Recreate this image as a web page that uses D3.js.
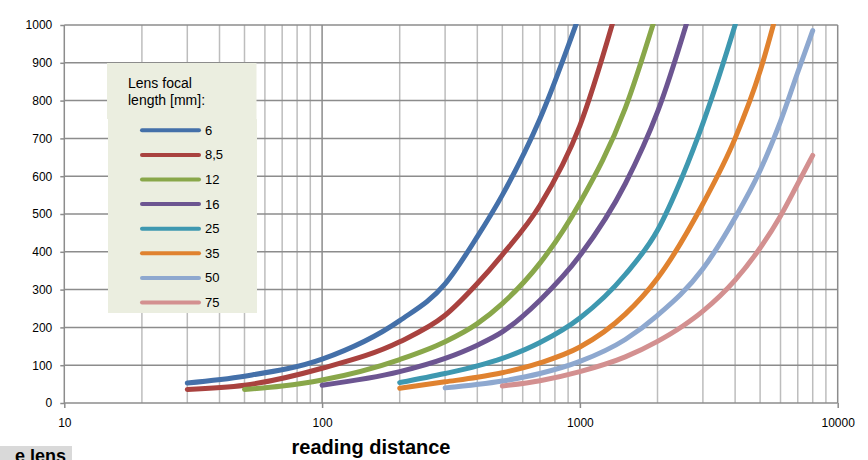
<!DOCTYPE html>
<html><head><meta charset="utf-8">
<script src="https://cdn.jsdelivr.net/npm/d3@7"></script>
<style>
body{margin:0;background:#fff}
svg{display:block}
text{font-family:"Liberation Sans",Arial,sans-serif;fill:#000}
</style>
</head><body>
<svg id="c" width="868" height="460"></svg>
<script>
// ---- data ----
const lensLabels = ["6","8,5","12","16","25","35","50","75"];
const seriesColors = ["#4470a9","#a9423f","#89a74a","#6c5591","#3e98b0","#e0822f","#8ea8cf","#d39090"];

const dist6  = [30,50,100,200,300,400,500,700,1000];
const val6   = [53,71,116,218,315,440,550,752,1030];
const dist85 = [30,50,100,200,300,400,500,700,1000,1400];
const val85  = [36,47,92,162,232,316,392,523,734,1050];
const dist12 = [50,70,100,200,300,400,500,700,1000,1500,2000];
const val12  = [36,45,61,115,162,210,263,370,530,780,1040];
const dist16 = [100,200,300,400,500,700,1000,1500,2000,3000];
const val16  = [47,83,118,153,188,272,390,580,770,1150];
const dist25 = [200,300,400,500,700,1000,1500,2000,2500,3000,4000,5000];
const val25  = [54,78,98,118,160,225,340,457,600,740,1000,1230];
const dist35 = [200,300,400,500,700,1000,1500,2000,3000,4000,5000,6000];
const val35  = [39,56,68,80,106,148,235,330,527,700,878,1070];
const dist50 = [300,500,700,1000,1500,2000,3000,4000,5000,6000,7000,8000];
const val50  = [40,58,78,110,168,232,355,490,615,745,875,985];
const dist75 = [500,700,1000,1500,2000,2500,3000,4000,5000,6000,7000,8000];
const val75  = [45,59,83,122,163,203,243,325,410,495,580,655];

const xTickValues = [10,100,1000,10000];
const xMinorValues = [20,30,40,50,60,70,80,90,200,300,400,500,600,700,800,900,2000,3000,4000,5000,6000,7000,8000,9000];
const yTickValues = [0,100,200,300,400,500,600,700,800,900,1000];
const xTitle = "reading distance";
const legendTitle = ["Lens focal","length [mm]:"];

const seriesDist = [dist6,dist85,dist12,dist16,dist25,dist35,dist50,dist75];
const seriesVal  = [val6,val85,val12,val16,val25,val35,val50,val75];

// ---- layout ----
const svg = d3.select("#c");
const L = 64.3, R = 837.7, T = 25, B = 403;
const x = d3.scaleLog().domain([10,10000]).range([L,R]);
const y = d3.scaleLinear().domain([0,1000]).range([B,T]);

const grid = svg.append("g");
grid.selectAll("line.vmin").data(xMinorValues).enter().append("line")
  .attr("x1",d=>x(d)).attr("x2",d=>x(d)).attr("y1",T).attr("y2",B)
  .attr("stroke","#bdbdbd").attr("stroke-width",1.5);
grid.selectAll("line.h").data(yTickValues).enter().append("line")
  .attr("x1",L).attr("x2",R).attr("y1",d=>y(d)).attr("y2",d=>y(d))
  .attr("stroke","#8c8c8c").attr("stroke-width",1.5);
grid.selectAll("line.vmaj").data(xTickValues).enter().append("line")
  .attr("x1",d=>x(d)).attr("x2",d=>x(d)).attr("y1",T).attr("y2",B)
  .attr("stroke","#8c8c8c").attr("stroke-width",1.5);

// axes
const yAxis = d3.axisLeft(y).tickValues(yTickValues).tickSize(4).tickPadding(8).tickFormat(d3.format("d"));
const gy = svg.append("g").attr("transform",`translate(${L},0)`).call(yAxis);
gy.select(".domain").remove();
gy.selectAll(".tick line").attr("stroke","#8c8c8c").attr("stroke-width",1.5);
gy.selectAll("text").style("font-size","12px").attr("fill","#000");

const xAxis = d3.axisBottom(x).tickValues(xTickValues).tickSize(5).tickPadding(10).tickFormat(d3.format("d"));
const gx = svg.append("g").attr("transform",`translate(0,${B})`).call(xAxis);
gx.select(".domain").remove();
gx.selectAll(".tick line").attr("stroke","#8c8c8c").attr("stroke-width",1.5);
gx.selectAll("text").style("font-size","12px").attr("fill","#000");

// clip
svg.append("clipPath").attr("id","pc").append("rect")
  .attr("x",L).attr("y",T-1).attr("width",R-L).attr("height",B-T+2);

const line = d3.line().x(d=>x(d[0])).y(d=>y(d[1])).curve(d3.curveMonotoneX);
const lines = svg.append("g").attr("clip-path","url(#pc)");
seriesDist.forEach((ds,i)=>{
  const pts = ds.map((d,j)=>[d,seriesVal[i][j]]);
  lines.append("path").attr("d",line(pts)).attr("fill","none")
    .attr("stroke",seriesColors[i]).attr("stroke-width",5)
    .attr("stroke-linecap","round").attr("stroke-linejoin","round");
});

// legend
const lg = svg.append("g");
lg.append("rect").attr("x",107).attr("y",63).attr("width",149.5).attr("height",56).attr("fill","#ebeee0");
lg.append("rect").attr("x",108).attr("y",119).attr("width",149).attr("height",194).attr("fill","#ebeee0");
lg.selectAll("text.t").data(legendTitle).enter().append("text")
  .attr("x",128).attr("y",(d,i)=>88+i*16.5).style("font-size","14px").text(d=>d);
lensLabels.forEach((lab,i)=>{
  const yy = 130.3 + i*24.6;
  lg.append("line").attr("x1",142).attr("x2",199).attr("y1",yy).attr("y2",yy)
    .attr("stroke",seriesColors[i]).attr("stroke-width",4).attr("stroke-linecap","round");
  lg.append("text").attr("x",205).attr("y",yy+4.5).style("font-size","13px").text(lab);
});

// axis title
svg.append("text").attr("x",371).attr("y",454).attr("text-anchor","middle")
  .style("font-size","20px").style("font-weight","bold").text(xTitle);

// cut-off box at bottom-left
svg.append("rect").attr("x",0).attr("y",446).attr("width",72).attr("height",14).attr("fill","#d9d9d9");
svg.append("text").attr("x",66).attr("y",462).attr("text-anchor","end")
  .style("font-size","18px").style("font-weight","bold").text("e lens");
</script>
</body></html>
